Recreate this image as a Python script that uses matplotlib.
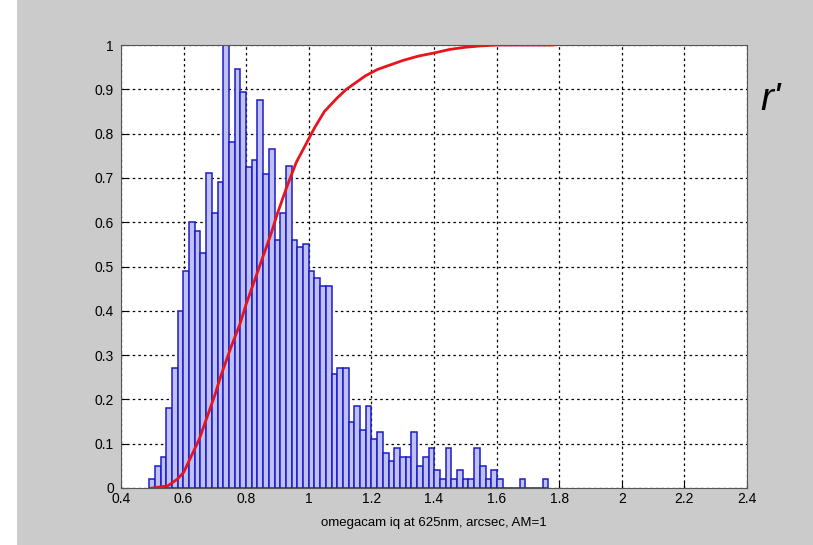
import numpy as np
from matplotlib import pyplot as plt
from matplotlib.patches import Rectangle

# normalised histogram of image quality (arcsec), 70 bins 0.49..1.765
bin_lo, bin_hi = 0.49, 1.765
counts = [0.02, 0.05, 0.07, 0.18, 0.27, 0.40, 0.49, 0.60, 0.58, 0.53,
          0.71, 0.62, 0.69, 1.00, 0.78, 0.945, 0.895, 0.725, 0.74, 0.875,
          0.708, 0.765, 0.56, 0.62, 0.727, 0.56, 0.545, 0.55, 0.49, 0.473,
          0.455, 0.455, 0.258,
          0.27, 0.27, 0.15, 0.185, 0.13, 0.185, 0.11, 0.127, 0.08, 0.06,
          0.09, 0.07, 0.07, 0.127, 0.05, 0.07, 0.09, 0.04, 0.02, 0.09,
          0.02, 0.04, 0.02, 0.02, 0.09, 0.05, 0.02, 0.04, 0.02, 0.0,
          0.0, 0.0, 0.02, 0.0, 0.0, 0.0, 0.02]

# cumulative distribution (red curve)
cdf_x = [0.50, 0.55, 0.58, 0.60, 0.62, 0.65, 0.67, 0.70, 0.72, 0.75,
         0.78, 0.80, 0.83, 0.85, 0.88, 0.90, 0.93, 0.96, 0.99, 1.02,
         1.05, 1.09, 1.12, 1.15, 1.18, 1.22, 1.26, 1.30, 1.35, 1.40,
         1.45, 1.50, 1.55, 1.60, 1.78]
cdf_y = [0.0, 0.005, 0.02, 0.035, 0.065, 0.11, 0.15, 0.21, 0.255, 0.315,
         0.37, 0.415, 0.475, 0.515, 0.575, 0.62, 0.68, 0.735, 0.775, 0.815,
         0.85, 0.88, 0.9, 0.915, 0.93, 0.945, 0.955, 0.965, 0.975, 0.982,
         0.99, 0.995, 0.998, 1.0, 1.0]

xticks = [0.4, 0.6, 0.8, 1, 1.2, 1.4, 1.6, 1.8, 2, 2.2, 2.4]
yticks = [0, 0.1, 0.2, 0.3, 0.4, 0.5, 0.6, 0.7, 0.8, 0.9, 1]

plt.rcParams['font.family'] = ['Liberation Sans', 'DejaVu Sans']

fig = plt.figure(figsize=(8.13, 5.45), dpi=100, facecolor='white')
fig.patches.append(Rectangle((17/813, 0), 1, 1, transform=fig.transFigure,
                             facecolor='#cbcbcb', edgecolor='none', zorder=-1))
ax = fig.add_axes([0.1488, 0.1046, 0.770, 0.8128])

edges = np.linspace(bin_lo, bin_hi, len(counts) + 1)
ax.bar(edges[:-1], counts, width=np.diff(edges), align='edge',
       color='#bfc0f4', edgecolor='#1c1cc8', linewidth=1.1, zorder=2)
ax.plot(cdf_x, cdf_y, color='#e8141c', lw=2, zorder=3)

ax.set_xlim(0.4, 2.4)
ax.set_ylim(0, 1)
ax.set_xticks(xticks)
ax.set_xticklabels([str(t) for t in xticks])
ax.set_yticks(yticks)
ax.set_yticklabels([str(t) for t in yticks])
ax.tick_params(direction='in', labelsize=10, length=4)
ax.tick_params(axis='x', pad=3)
ax.tick_params(axis='y', pad=5)
ax.grid(True, color='black', linestyle=(0, (2, 2.5)), linewidth=0.9)
ax.set_axisbelow(True)
for s in ax.spines.values():
    s.set_color('#555555')
ax.set_xlabel("omegacam iq at 625nm, arcsec, AM=1", fontsize=9.5, labelpad=8)

fig.text(760/813, 1 - 110/545, "r'", fontsize=28, style='italic')

plt.savefig("out.png", dpi=100, facecolor=fig.get_facecolor())
